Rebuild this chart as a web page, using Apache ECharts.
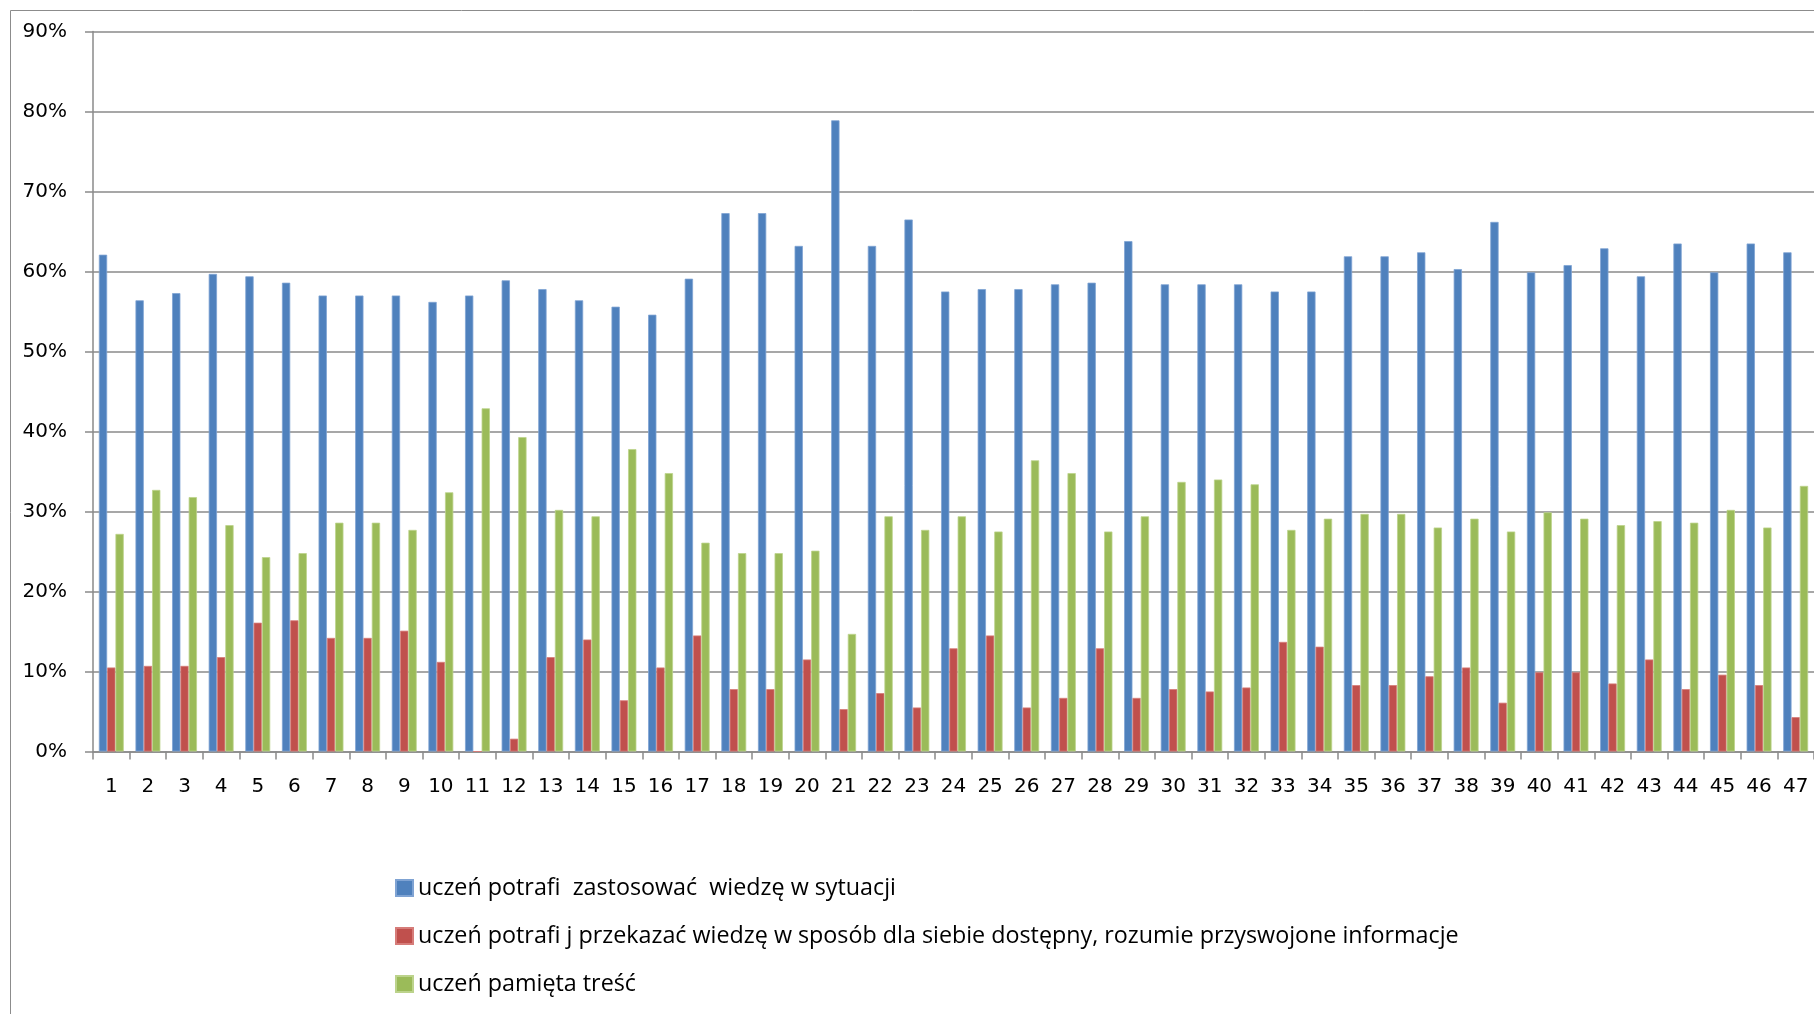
<!DOCTYPE html>
<html>
<head>
<meta charset="utf-8">
<script src="https://cdn.jsdelivr.net/npm/echarts@6/dist/echarts.min.js"></script>
<style>
html,body{margin:0;padding:0;background:#fff;}
#chart{width:1814px;height:1014px;}
</style>
</head>
<body>
<div id="chart"></div>
<script>
const categories = Array.from({length: 47}, (_, i) => String(i + 1));

const seriesNames = [
  "uczeń potrafi  zastosować  wiedzę w sytuacji",
  "uczeń potrafi j przekazać wiedzę w sposób dla siebie dostępny, rozumie przyswojone informacje",
  "uczeń pamięta treść"
];

const applyValues = [
  62.1, 56.4, 57.3, 59.7, 59.4, 58.6, 57.0, 57.0, 57.0, 56.2,
  57.0, 58.9, 57.8, 56.4, 55.6, 54.6, 59.1, 67.3, 67.3, 63.2,
  78.9, 63.2, 66.5, 57.5, 57.8, 57.8, 58.4, 58.6, 63.8, 58.4,
  58.4, 58.4, 57.5, 57.5, 61.9, 61.9, 62.4, 60.3, 66.2, 59.9,
  60.8, 62.9, 59.4, 63.5, 59.9, 63.5, 62.4
];

const conveyValues = [
  10.5, 10.7, 10.7, 11.8, 16.1, 16.4, 14.2, 14.2, 15.1, 11.2,
  0, 1.6, 11.8, 14.0, 6.4, 10.5, 14.5, 7.8, 7.8, 11.5,
  5.3, 7.3, 5.5, 12.9, 14.5, 5.5, 6.7, 12.9, 6.7, 7.8,
  7.5, 8.0, 13.7, 13.1, 8.3, 8.3, 9.4, 10.5, 6.1, 9.9,
  9.9, 8.5, 11.5, 7.8, 9.6, 8.3, 4.3
];

const rememberValues = [
  27.2, 32.7, 31.8, 28.3, 24.3, 24.8, 28.6, 28.6, 27.7, 32.4,
  42.9, 39.3, 30.2, 29.4, 37.8, 34.8, 26.1, 24.8, 24.8, 25.1,
  14.7, 29.4, 27.7, 29.4, 27.5, 36.4, 34.8, 27.5, 29.4, 33.7,
  34.0, 33.4, 27.7, 29.1, 29.7, 29.7, 28.0, 29.1, 27.5, 29.9,
  29.1, 28.3, 28.8, 28.6, 30.2, 28.0, 33.2
];

const yTicks = { min: 0, max: 90, interval: 10 };
const colors = ["#4F81BD", "#C0504D", "#9BBB59"];
const gridGray = "#8a8a8a";

const chart = echarts.init(document.getElementById('chart'), null, {renderer: 'canvas'});

function barSeries(name, data, color, border) {
  return {
    name: name,
    type: 'bar',
    data: data,
    barGap: '0%',
    barCategoryGap: '32%',
    itemStyle: { color: color, borderColor: border, borderWidth: 0.8 },
    animation: false
  };
}

chart.setOption({
  backgroundColor: '#ffffff',
  animation: false,
  graphic: [{
    type: 'rect',
    shape: { x: 10.5, y: 10.5, width: 1900, height: 1100 },
    style: { fill: 'none', stroke: '#8c8c8c', lineWidth: 1 },
    z: -1
  }],
  grid: { left: 93, top: 31.5, width: 1723, height: 720, containLabel: false },
  legend: {
    orient: 'vertical',
    left: 395,
    top: 876,
    padding: 0,
    icon: 'rect',
    itemWidth: 17,
    itemHeight: 16,
    itemGap: 24,
    textStyle: { fontFamily: 'Open Sans, Liberation Sans, sans-serif', fontSize: 23.3, color: '#000', lineHeight: 24 },
    data: seriesNames
  },
  xAxis: {
    type: 'category',
    data: categories,
    boundaryGap: true,
    axisLine: { lineStyle: { color: gridGray, width: 1.5 } },
    axisTick: { show: true, alignWithLabel: false, length: 8, lineStyle: { color: gridGray, width: 1.5 } },
    axisLabel: { interval: 0, margin: 25, color: '#000', fontFamily: 'DejaVu Sans, Verdana, sans-serif', fontSize: 20 },
    splitLine: { show: false }
  },
  yAxis: {
    type: 'value',
    min: yTicks.min,
    max: yTicks.max,
    interval: yTicks.interval,
    axisLine: { show: true, lineStyle: { color: gridGray, width: 1.5 } },
    axisTick: { show: true, length: 8, lineStyle: { color: gridGray, width: 1.5 } },
    axisLabel: { margin: 26, color: '#000', fontFamily: 'DejaVu Sans, Verdana, sans-serif', fontSize: 20, formatter: '{value}%' },
    splitLine: { show: true, lineStyle: { color: gridGray, width: 1.5 } }
  },
  series: [
    barSeries(seriesNames[0], applyValues, colors[0], '#7fa3d3'),
    barSeries(seriesNames[1], conveyValues, colors[1], '#d67c79'),
    barSeries(seriesNames[2], rememberValues, colors[2], '#bcd38c')
  ]
});
</script>
</body>
</html>
